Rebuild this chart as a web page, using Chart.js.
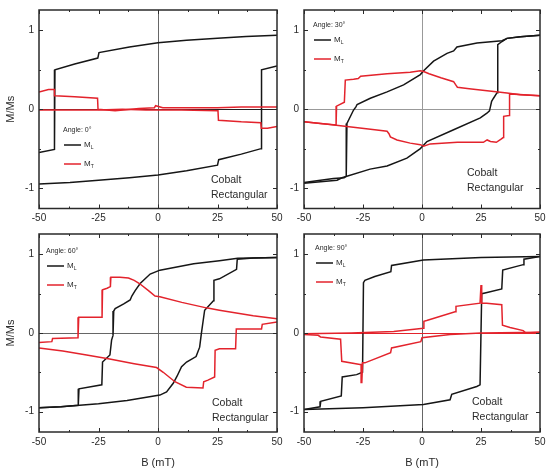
<!DOCTYPE html>
<html><head><meta charset="utf-8">
<script src="https://cdn.jsdelivr.net/npm/chart.js@4.4.0/dist/chart.umd.min.js"></script>
<style>
html,body{margin:0;padding:0;background:#fff;}
#wrap{position:relative;width:547px;height:472px;overflow:hidden;}
canvas{position:absolute;left:0;top:0;}
</style></head><body>
<div id="wrap">
<canvas id="c0" width="547" height="472"></canvas>
<canvas id="c1" width="547" height="472"></canvas>
<canvas id="c2" width="547" height="472"></canvas>
<canvas id="c3" width="547" height="472"></canvas>
</div>
<script>
// ---- tick values and labels ----
const xTicks = [-50, -25, 0, 25, 50];
const xMinor = [-37.5, -12.5, 12.5, 37.5];
const yTicks = [-1, 0, 1];
const yMinor = [-0.5, 0.5];
const angleLabels = ['Angle: 0°', 'Angle: 30°', 'Angle: 60°', 'Angle: 90°'];
const sampleLines = ['Cobalt', 'Rectangular'];
const xTitle = 'B (mT)';
const yTitle = 'M/Ms';

// ---- data: [B (mT), M/Ms] ----
// Angle 0°
const ML0_down = [[50,0.94],[37,0.925],[25,0.9],[12,0.875],[0,0.845],[-12,0.79],[-24.8,0.72],[-25.3,0.65],[-35,0.575],[-43.3,0.5],[-43.5,-0.51],[-50,-0.55]];
const ML0_up   = [[-50,-0.95],[-37,-0.93],[-25,-0.9],[-12,-0.87],[0,-0.835],[12,-0.78],[25,-0.71],[25.5,-0.64],[35,-0.57],[43.3,-0.5],[43.5,0.5],[50,0.55]];
const MT0_down = [[50,0.03],[35,0.03],[25,0.02],[12,0.02],[2,0.02],[-1,0.045],[-1.5,0.02],[-8,0.01],[-18,-0.02],[-25.2,0.0],[-25.4,0.14],[-35,0.16],[-43.3,0.17],[-43.5,0.25],[-46,0.25],[-50,0.22]];
const MT0_up   = [[-50,-0.01],[-35,-0.01],[-25,-0.01],[-15,0.0],[-5,-0.01],[0,-0.01],[10,-0.01],[25.2,-0.02],[25.4,-0.14],[35,-0.16],[43.2,-0.17],[43.4,-0.24],[46,-0.24],[50,-0.22]];
// Angle 30°
const ML30_down = [[50,0.94],[41.7,0.92],[36,0.9],[33.9,0.87],[23.3,0.84],[14.8,0.79],[13.4,0.74],[10.6,0.71],[4.9,0.61],[0.7,0.49],[-0.7,0.44],[-7.8,0.31],[-14.8,0.22],[-21.9,0.14],[-27.5,0.06],[-28,0.03],[-29,-0.01],[-31.8,-0.18],[-32.1,-0.85],[-33,-0.87],[-37.5,-0.88],[-43,-0.9],[-50,-0.93]];
const ML30_up   = [[-50,-0.94],[-43,-0.92],[-36,-0.9],[-33.9,-0.87],[-22,-0.76],[-14.8,-0.72],[-6.4,-0.62],[-0.7,-0.5],[2.1,-0.41],[13.4,-0.26],[24.7,-0.11],[27.5,-0.05],[28.6,-0.02],[29.5,0.1],[30.3,0.14],[31.8,0.21],[32.1,0.82],[33.9,0.86],[36,0.9],[41.7,0.92],[50,0.94]];
const MT30_down = [[50,0.17],[41.7,0.185],[36,0.205],[30.4,0.225],[20,0.26],[15,0.28],[14.3,0.31],[13.4,0.35],[8,0.4],[3,0.45],[0.7,0.48],[-0.7,0.49],[-5,0.47],[-14.8,0.45],[-26,0.42],[-27,0.39],[-29,0.38],[-32.5,0.37],[-32.9,0.09],[-36.2,0.04],[-36.4,-0.2],[-43,-0.18],[-50,-0.16]];
const MT30_up   = [[-50,-0.16],[-40,-0.19],[-31.8,-0.22],[-20,-0.26],[-14.8,-0.28],[-14,-0.31],[-13.4,-0.35],[-10.6,-0.39],[-5,-0.43],[-0.7,-0.45],[0.7,-0.47],[3.5,-0.44],[15,-0.42],[26,-0.42],[27.6,-0.39],[29,-0.41],[31.5,-0.42],[33.5,-0.38],[34.4,-0.36],[34.6,-0.09],[36.9,-0.08],[37.1,0.195],[43,0.185],[50,0.17]];
// Angle 60°
const ML60_down = [[50,0.96],[40,0.955],[33.5,0.95],[25.8,0.92],[15,0.88],[0.8,0.8],[-3.3,0.75],[-5.4,0.69],[-7.5,0.63],[-9.6,0.54],[-11,0.47],[-11.7,0.42],[-14.4,0.37],[-18,0.31],[-18.6,0.28],[-18.9,-0.03],[-19.5,-0.09],[-20.2,-0.28],[-23.3,-0.37],[-23.6,-0.66],[-33.2,-0.71],[-33.5,-0.92],[-40.8,-0.94],[-50,-0.95]];
const ML60_up   = [[-50,-0.95],[-40.8,-0.94],[-25,-0.9],[-13,-0.86],[0.8,-0.79],[3.6,-0.75],[6.4,-0.64],[8,-0.55],[9.9,-0.43],[12,-0.37],[16,-0.3],[17.5,-0.18],[18.2,-0.01],[18.9,0.14],[19.6,0.29],[23.3,0.41],[23.5,0.67],[25.8,0.69],[33,0.81],[33.3,0.94],[40,0.955],[50,0.96]];
const MT60_down = [[50,0.18],[40,0.22],[25.8,0.29],[20.3,0.32],[10,0.39],[0.8,0.46],[-1.25,0.47],[-4,0.54],[-7.8,0.63],[-10,0.67],[-12.4,0.7],[-16,0.71],[-19.8,0.71],[-20,0.59],[-21.4,0.57],[-23.3,0.55],[-23.5,0.2],[-33.3,0.2],[-33.6,-0.06],[-44.3,-0.07],[-44.6,-0.11],[-50,-0.12]];
const MT60_up   = [[-50,-0.19],[-40,-0.23],[-30,-0.28],[-20.3,-0.33],[-10,-0.39],[-0.6,-0.44],[2.2,-0.5],[7.1,-0.62],[11.9,-0.69],[18.9,-0.7],[19.2,-0.62],[21,-0.6],[23.8,-0.56],[24,-0.22],[25.8,-0.2],[32.6,-0.2],[32.9,0.05],[43.5,0.05],[43.8,0.11],[50,0.14]];
// Angle 90°
const ML90_down = [[50,0.975],[25,0.96],[0.6,0.93],[-12.9,0.86],[-13.2,0.78],[-20,0.72],[-24.2,0.67],[-24.8,0.64],[-25.2,-0.5],[-27.7,-0.53],[-33.8,-0.56],[-34.2,-0.8],[-42.9,-0.87],[-43.2,-0.94],[-50,-0.975]];
const ML90_up   = [[-50,-0.975],[-25,-0.95],[0.6,-0.91],[11.9,-0.85],[12.6,-0.78],[23.2,-0.68],[24.6,-0.66],[25.3,0.5],[26.7,0.51],[33.8,0.56],[34.2,0.8],[42.9,0.87],[43.2,0.94],[50,0.975]];
const MT90_down = [[50,0.01],[25,0.0],[11.9,-0.02],[0,-0.06],[-0.5,-0.11],[-12.9,-0.19],[-13.3,-0.25],[-24.2,-0.38],[-25.2,-0.38],[-25.5,-0.63],[-25.8,-0.4],[-26.3,-0.4],[-34,-0.36],[-34.5,-0.08],[-43,-0.05],[-44,-0.03],[-50,-0.02]];
const MT90_up   = [[-50,-0.01],[-30,0.0],[-12,0.02],[0.6,0.06],[0.8,0.15],[2,0.16],[14,0.27],[14.4,0.34],[24.6,0.38],[25,0.61],[25.3,0.38],[27.4,0.38],[33.8,0.36],[34.1,0.1],[37.3,0.07],[42.9,0.03],[44,0.0],[50,0.01]];

// ---- layout / style (not data) ----
const BLACK = '#161616', RED = '#e3232c', INK = '#2a2a2a';
Chart.defaults.font.family = "'Liberation Sans', Arial, sans-serif";

const panels = [
  {id:'c0', ml:[ML0_down, ML0_up], mt:[MT0_down, MT0_up], pad:{left:4,right:270,top:10,bottom:243.5}, yw:35, xh:20, xT:false, yT:true,
   hz:'#222', vz:'#666', leg:[63,130], note:[211,180]},
  {id:'c1', ml:[ML30_down, ML30_up], mt:[MT30_down, MT30_up], pad:{left:274,right:7,top:10,bottom:243.5}, yw:30, xh:20, xT:false, yT:false,
   hz:'#999', vz:'#999', leg:[313,25], note:[467,173]},
  {id:'c2', ml:[ML60_down, ML60_up], mt:[MT60_down, MT60_up], pad:{left:4,right:270,top:234,bottom:0}, yw:35, xh:40, xT:true, yT:true,
   hz:'#666', vz:'#666', leg:[46,251], note:[212,403]},
  {id:'c3', ml:[ML90_down, ML90_up], mt:[MT90_down, MT90_up], pad:{left:274,right:7,top:234,bottom:0}, yw:30, xh:40, xT:true, yT:false,
   hz:RED, vz:'#666', leg:[315,248], note:[472,402]}
];

const decor = {
  id: 'decor',
  afterDatasetsDraw(chart, args, o) {
    const {ctx, chartArea: a, scales: {x, y}} = chart;
    ctx.save();
    ctx.strokeStyle = INK; ctx.lineWidth = 1;
    const seg = (x1, y1, x2, y2) => { ctx.beginPath(); ctx.moveTo(x1, y1); ctx.lineTo(x2, y2); ctx.stroke(); };
    const xm = (vals, len) => vals.forEach(v => { const p = Math.round(x.getPixelForValue(v)) + 0.5; seg(p, a.bottom, p, a.bottom - len); seg(p, a.top, p, a.top + len); });
    const ym = (vals, len) => vals.forEach(v => { const p = Math.round(y.getPixelForValue(v)) + 0.5; seg(a.left, p, a.left + len, p); seg(a.right, p, a.right - len, p); });
    xm(xTicks, 4); xm(xMinor, 2); ym(yTicks, 4); ym(yMinor, 2);
    ctx.lineWidth = 1.5;
    ctx.strokeRect(a.left, a.top, a.right - a.left, a.bottom - a.top);
    // legend
    const [lx, ly] = o.leg;
    ctx.fillStyle = INK; ctx.textBaseline = 'middle'; ctx.textAlign = 'left';
    ctx.font = "7px 'Liberation Sans', Arial, sans-serif";
    ctx.fillText(o.angle, lx, ly);
    const item = (yy, col, sub) => {
      ctx.strokeStyle = col; ctx.lineWidth = 1.5; seg(lx + 1, yy, lx + 18, yy);
      ctx.fillStyle = INK;
      ctx.font = "8px 'Liberation Sans', Arial, sans-serif";
      ctx.fillText('M', lx + 21, yy);
      const w = ctx.measureText('M').width;
      ctx.font = "5px 'Liberation Sans', Arial, sans-serif";
      ctx.fillText(sub, lx + 21 + w, yy + 3);
    };
    item(ly + 15, BLACK, 'L');
    item(ly + 34, RED, 'T');
    // sample note
    ctx.fillStyle = INK;
    ctx.font = "10.5px 'Liberation Sans', Arial, sans-serif";
    ctx.fillText(sampleLines[0], o.note[0], o.note[1]);
    ctx.fillText(sampleLines[1], o.note[0], o.note[1] + 15);
    ctx.restore();
  }
};

const mk = (arr, color, order) => ({
  data: arr.map(p => ({x: p[0], y: p[1]})),
  showLine: true, borderColor: color, backgroundColor: color, borderWidth: 1.5,
  pointRadius: 0, pointHoverRadius: 0, fill: false, tension: 0, order
});
const zeroPads = s => { s.paddingLeft = s.paddingRight = s.paddingTop = s.paddingBottom = 0; };

panels.forEach((P, i) => {
  new Chart(document.getElementById(P.id), {
    type: 'scatter',
    data: { datasets: [
      ...P.mt.map(a => mk(a, RED, 0)),
      ...P.ml.map(a => mk(a, BLACK, 1))
    ]},
    options: {
      responsive: false, animation: false, devicePixelRatio: 1, events: [],
      layout: { padding: P.pad },
      plugins: { legend: {display: false}, tooltip: {enabled: false},
        decor: { leg: P.leg, note: P.note, angle: angleLabels[i] } },
      scales: {
        x: { type: 'linear', min: -50, max: 50,
          afterBuildTicks: s => { s.ticks = xTicks.map(v => ({value: v})); },
          afterFit: s => { s.height = P.xh; zeroPads(s); },
          grid: { drawTicks: false, lineWidth: 1, color: c => (c.tick && c.tick.value === 0) ? P.vz : 'rgba(0,0,0,0)' },
          border: { display: false },
          ticks: { padding: 4, color: INK, font: {size: 10}, maxRotation: 0, autoSkip: false },
          title: { display: P.xT, text: xTitle, color: INK, font: {size: 11}, padding: {top: 0, bottom: 2} }
        },
        y: { type: 'linear', min: -1.26, max: 1.26,
          afterBuildTicks: s => { s.ticks = yTicks.map(v => ({value: v})); },
          afterFit: s => { s.width = P.yw; zeroPads(s); },
          grid: { drawTicks: false, lineWidth: 1, color: c => (c.tick && c.tick.value === 0) ? P.hz : 'rgba(0,0,0,0)' },
          border: { display: false },
          ticks: { padding: 5, color: INK, font: {size: 10}, autoSkip: false },
          title: { display: P.yT, text: yTitle, color: INK, font: {size: 11}, padding: {top: 0, bottom: 0} }
        }
      }
    },
    plugins: [decor]
  });
});
</script>
</body></html>
